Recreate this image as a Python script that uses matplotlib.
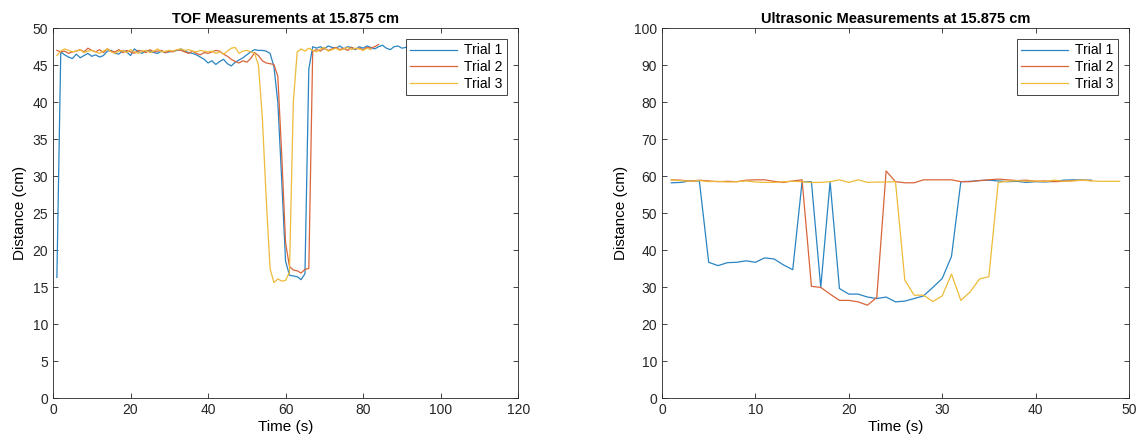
import matplotlib.pyplot as plt
import numpy as np

plt.rcParams['font.family'] = ['Liberation Sans', 'DejaVu Sans']

# MATLAB default line colours (a touch lighter, as in the screenshot)
colors = ['#2A84C2', '#D9653A', '#EEBB3A']
labels = ['Trial 1', 'Trial 2', 'Trial 3']

# TOF distance readings (cm), one per second
tof1 = [16.3, 46.8, 46.4, 46.1, 45.9, 46.5, 46.0, 46.3, 46.6, 46.2,
        46.4, 46.1, 46.3, 46.9, 47.0, 46.6, 46.5, 47.0, 46.8, 46.3,
        47.2, 46.8, 46.6, 47.0, 46.9, 46.7, 46.6, 46.9, 46.7, 46.8,
        46.9, 47.0, 47.2, 46.9, 46.7, 46.6, 46.4, 46.1, 45.8, 45.3,
        45.6, 45.1, 45.5, 45.8, 45.2, 44.9, 45.4, 45.7, 46.0, 46.4,
        46.8, 47.1, 47.0, 47.0, 46.9, 46.6, 44.8, 40.0, 29.5, 18.5,
        16.6, 16.5, 16.4, 16.0, 16.8, 44.5, 47.5, 47.3, 47.5, 47.2,
        47.6, 47.4, 47.3, 47.6, 47.2, 47.5, 47.4, 47.1, 47.5, 47.3,
        47.6, 47.4, 47.2, 47.5, 47.7, 47.3, 47.1, 47.5, 47.6, 47.3,
        47.4, 47.8, 47.5, 47.6, 47.7, 47.6]
tof2 = [47.0, 46.8, 46.9, 46.6, 46.8, 46.9, 47.1, 46.8, 47.3, 47.0,
        46.8, 47.1, 46.7, 47.2, 46.9, 46.8, 47.1, 46.7, 47.0, 46.8,
        46.6, 47.0, 46.9, 46.7, 47.1, 46.8, 46.9, 47.0, 46.7, 46.9,
        46.8, 47.1, 47.0, 46.8, 46.6, 46.9, 46.6, 46.4, 46.7, 46.6,
        46.8, 47.0, 46.9, 46.5, 46.2, 45.8, 45.5, 45.3, 45.6, 45.4,
        45.9, 46.7, 46.3, 45.6, 45.3, 45.2, 45.1, 43.5, 33.0, 21.0,
        17.8, 17.3, 17.2, 16.9, 17.4, 17.5, 46.9, 47.1, 46.9, 47.3,
        47.0, 47.2, 47.4, 47.1, 47.3, 47.0, 47.4, 47.2, 47.3, 47.1,
        47.4, 47.3, 47.5, 47.8]
tof3 = [46.3, 46.9, 47.2, 47.0, 46.8, 46.9, 47.1, 46.7, 46.9, 47.0,
        46.8, 46.6, 46.9, 47.2, 46.8, 46.6, 46.9, 47.0, 46.7, 47.1,
        46.8, 46.6, 46.9, 47.0, 46.7, 46.9, 47.2, 46.8, 46.9, 47.0,
        46.9, 47.1, 47.2, 47.0, 47.1, 46.9, 46.8, 47.0, 46.9, 46.8,
        46.9, 46.6, 46.8, 46.5, 46.9, 47.3, 47.4, 46.6, 46.9, 47.0,
        46.8, 46.6, 45.0, 38.0, 27.0, 17.5, 15.6, 16.1, 15.8, 15.9,
        17.0, 40.0, 46.8, 47.2, 46.9, 47.3, 47.0, 46.8, 47.2, 47.4,
        46.9, 47.1, 47.3, 47.0, 47.2, 47.4, 47.1, 47.3, 47.2, 47.0,
        47.3, 47.1]

# ultrasonic distance readings (cm), one per second
us1 = [58.2, 58.3, 58.7, 58.7, 36.7, 35.8, 36.6, 36.7, 37.1, 36.7,
       37.9, 37.6, 36.0, 34.7, 58.5, 58.5, 29.9, 58.5, 29.6, 28.1,
       28.1, 27.3, 26.9, 27.3, 26.0, 26.2, 26.9, 27.6, 29.9, 32.3,
       38.3, 58.5, 58.6, 58.8, 58.9, 58.7, 58.5, 58.6, 58.3, 58.5,
       58.4, 58.6, 58.9, 59.0, 58.9, 58.9]
us2 = [59.0, 58.9, 58.6, 58.9, 58.7, 58.5, 58.6, 58.5, 58.9, 59.0,
       59.0, 58.6, 58.3, 58.7, 59.0, 30.2, 29.9, 28.1, 26.4, 26.4,
       26.0, 25.1, 27.2, 61.4, 58.5, 58.2, 58.2, 59.0, 59.0, 59.0,
       59.0, 58.5, 58.5, 58.8, 59.0, 59.2, 59.0, 58.8, 58.9, 58.6,
       58.7, 58.5, 58.6, 58.8, 58.9, 58.8]
us3 = [59.0, 58.8, 58.6, 58.8, 58.5, 58.6, 58.4, 58.5, 58.7, 58.4,
       58.3, 58.3, 58.5, 58.6, 58.5, 58.3, 58.3, 58.5, 59.0, 58.3,
       59.0, 58.3, 58.4, 58.4, 58.5, 31.9, 27.8, 27.8, 26.1, 27.6,
       33.5, 26.4, 28.7, 32.2, 32.8, 58.3, 58.6, 58.8, 58.6, 58.7,
       58.5, 58.9, 58.6, 58.7, 58.9, 58.7, 58.6, 58.6, 58.6]

fig = plt.figure(figsize=(11.4, 4.45), dpi=100)
ax1 = fig.add_axes([0.0465, 0.1056, 0.408, 0.831])
ax2 = fig.add_axes([0.5807, 0.1056, 0.4096, 0.831])


def style(ax, title, xlim, ylim, yticks, xticks):
    ax.set_xlim(*xlim)
    ax.set_ylim(*ylim)
    ax.set_xticks(xticks)
    ax.set_yticks(yticks)
    ax.set_title(title, fontsize=10.5, fontweight='bold', pad=4)
    ax.set_xlabel('Time (s)', fontsize=11, labelpad=2)
    ax.set_ylabel('Distance (cm)', fontsize=11, labelpad=4)
    ax.tick_params(direction='in', top=True, right=True, length=3.5,
                   width=0.6, labelsize=10, colors='#262626')
    for s in ax.spines.values():
        s.set_color('#262626')
        s.set_linewidth(0.6)
    leg = ax.legend(loc='upper right', fontsize=10, fancybox=False,
                    framealpha=1, edgecolor='#262626', handlelength=3.4,
                    borderaxespad=0.8, handletextpad=0.5, labelspacing=0.2,
                    borderpad=0.3)
    leg.get_frame().set_linewidth(0.6)
    leg.set_zorder(5)


for data, c, lab in zip([tof1, tof2, tof3], colors, labels):
    t = np.arange(1, len(data) + 1)
    ax1.plot(t, data, color=c, lw=0.9, label=lab)

for data, c, lab in zip([us1, us2, us3], colors, labels):
    t = np.arange(1, len(data) + 1)
    ax2.plot(t, data, color=c, lw=0.9, label=lab)

style(ax1, 'TOF Measurements at 15.875 cm', (0, 120), (0, 50),
      np.arange(0, 51, 5), np.arange(0, 121, 20))
style(ax2, 'Ultrasonic Measurements at 15.875 cm', (0, 50), (0, 100),
      np.arange(0, 101, 10), np.arange(0, 51, 10))

fig.savefig('out.png', dpi=100)
